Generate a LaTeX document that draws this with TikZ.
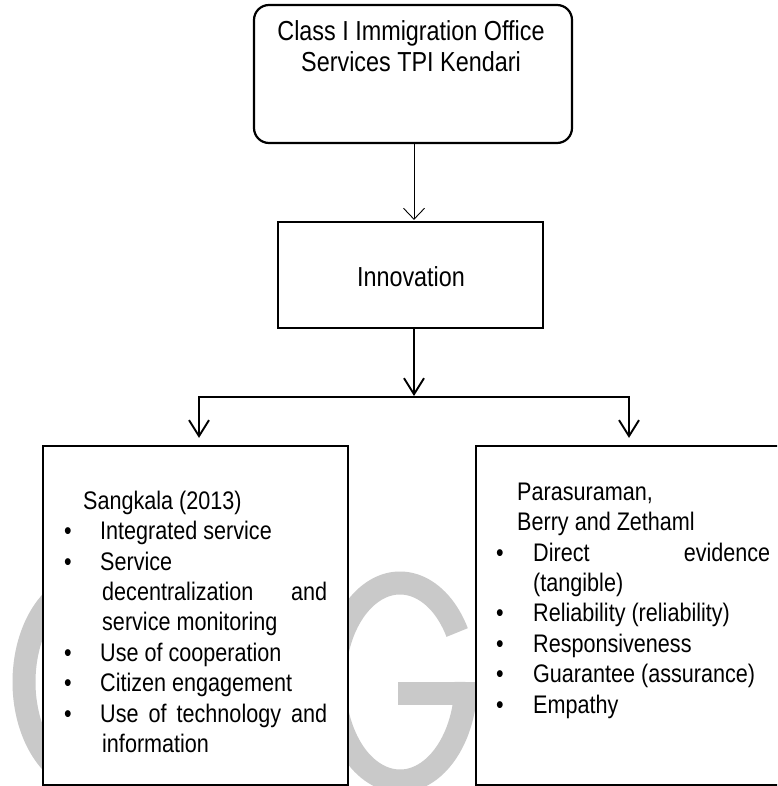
\documentclass[tikz,border=0pt]{standalone}
\usepackage{fontspec}
\setmainfont{Liberation Sans}[FakeStretch=0.85]
\usetikzlibrary{arrows.meta}
\begin{document}
\begin{tikzpicture}[x=1pt,y=-1pt,
  boxline/.style={draw=black, line width=2.2pt, fill=white, inner sep=0pt},
  thinarrow/.style={line width=0.9pt, -{Straight Barb[length=11pt,width=21pt]}},
  thickarrow/.style={line width=1.9pt, -{Straight Barb[length=16pt,width=20pt]}},
  wm/.style={draw=black!21, line width=23pt},
  listtext/.style={anchor=north west, inner sep=0pt, align=left,
    font=\fontsize{25.4}{30.4}\selectfont},
  bigtext/.style={inner sep=0pt, font=\fontsize{27.5}{31.5}\selectfont}]
\useasboundingbox (0,0) rectangle (777,786);
\clip (0,0) rectangle (777,786);
\fill[white] (0,0) rectangle (777,786);

% watermark fragments
\draw[wm] (90,682) ++(100:66 and 99) arc[start angle=100, end angle=260, x radius=66, y radius=99];
\draw[wm] (400,682) ++(-30:66 and 99) arc[start angle=-30, end angle=-360, x radius=66, y radius=99];
\fill[black!21] (398,682) rectangle (478,705);

% boxes
\node[boxline, rounded corners=15pt, minimum width=318pt, minimum height=138pt] (top) at (413,74) {};
\node[boxline, minimum width=265pt, minimum height=106pt] (inn) at (410.5,275) {};
\node[boxline, minimum width=305pt, minimum height=339pt] (left) at (195.5,615.5) {};
\node[boxline, minimum width=324pt, minimum height=339pt] (right) at (638,615.5) {};

% texts
\node[bigtext, anchor=north, align=center] (toptext) at (411,18)
  {\rule{0pt}{22pt}Class I Immigration Office\\Services TPI Kendari};
\node[bigtext, anchor=base] (inntext) at (411,286) {Innovation};

\node[listtext] (lefttext) at (64,489) {%
\rule{0pt}{20pt}\hspace*{19pt}Sangkala (2013)\\
\makebox[36pt][l]{\textbullet}Integrated service\\
\makebox[36pt][l]{\textbullet}Service\\
\hspace*{38pt}\makebox[225pt][s]{decentralization and}\\
\hspace*{38pt}service monitoring\\
\makebox[36pt][l]{\textbullet}Use of cooperation\\
\makebox[36pt][l]{\textbullet}Citizen engagement\\
\makebox[36pt][l]{\textbullet}\makebox[227pt][s]{Use of technology and}\\
\hspace*{38pt}information};

\node[listtext] (righttext) at (496,480) {%
\rule{0pt}{20pt}\hspace*{21pt}Parasuraman,\\
\hspace*{21pt}Berry and Zethaml\\
\makebox[37pt][l]{\textbullet}\makebox[237pt][s]{Direct evidence}\\
\hspace*{37pt}(tangible)\\
\makebox[37pt][l]{\textbullet}Reliability (reliability)\\
\makebox[37pt][l]{\textbullet}Responsiveness\\
\makebox[37pt][l]{\textbullet}Guarantee (assurance)\\
\makebox[37pt][l]{\textbullet}Empathy};

% connectors
\coordinate (ta) at (414,143);
\coordinate (j) at (414,397);
\coordinate (jl) at (199,397);
\coordinate (jr) at (629,397);
\draw[thinarrow, shorten >=1pt] (top.south -| ta) -- (inn.north -| ta);
\draw[thickarrow, shorten >=1pt] (inn.south -| j) -- (j);
\draw[line width=1.9pt, line cap=rect] (jl) -- (jr);
\draw[thickarrow, shorten >=7pt] (jl) -- (jl |- left.north);
\draw[thickarrow, shorten >=7pt] (jr) -- (jr |- right.north);
\end{tikzpicture}
\end{document}
